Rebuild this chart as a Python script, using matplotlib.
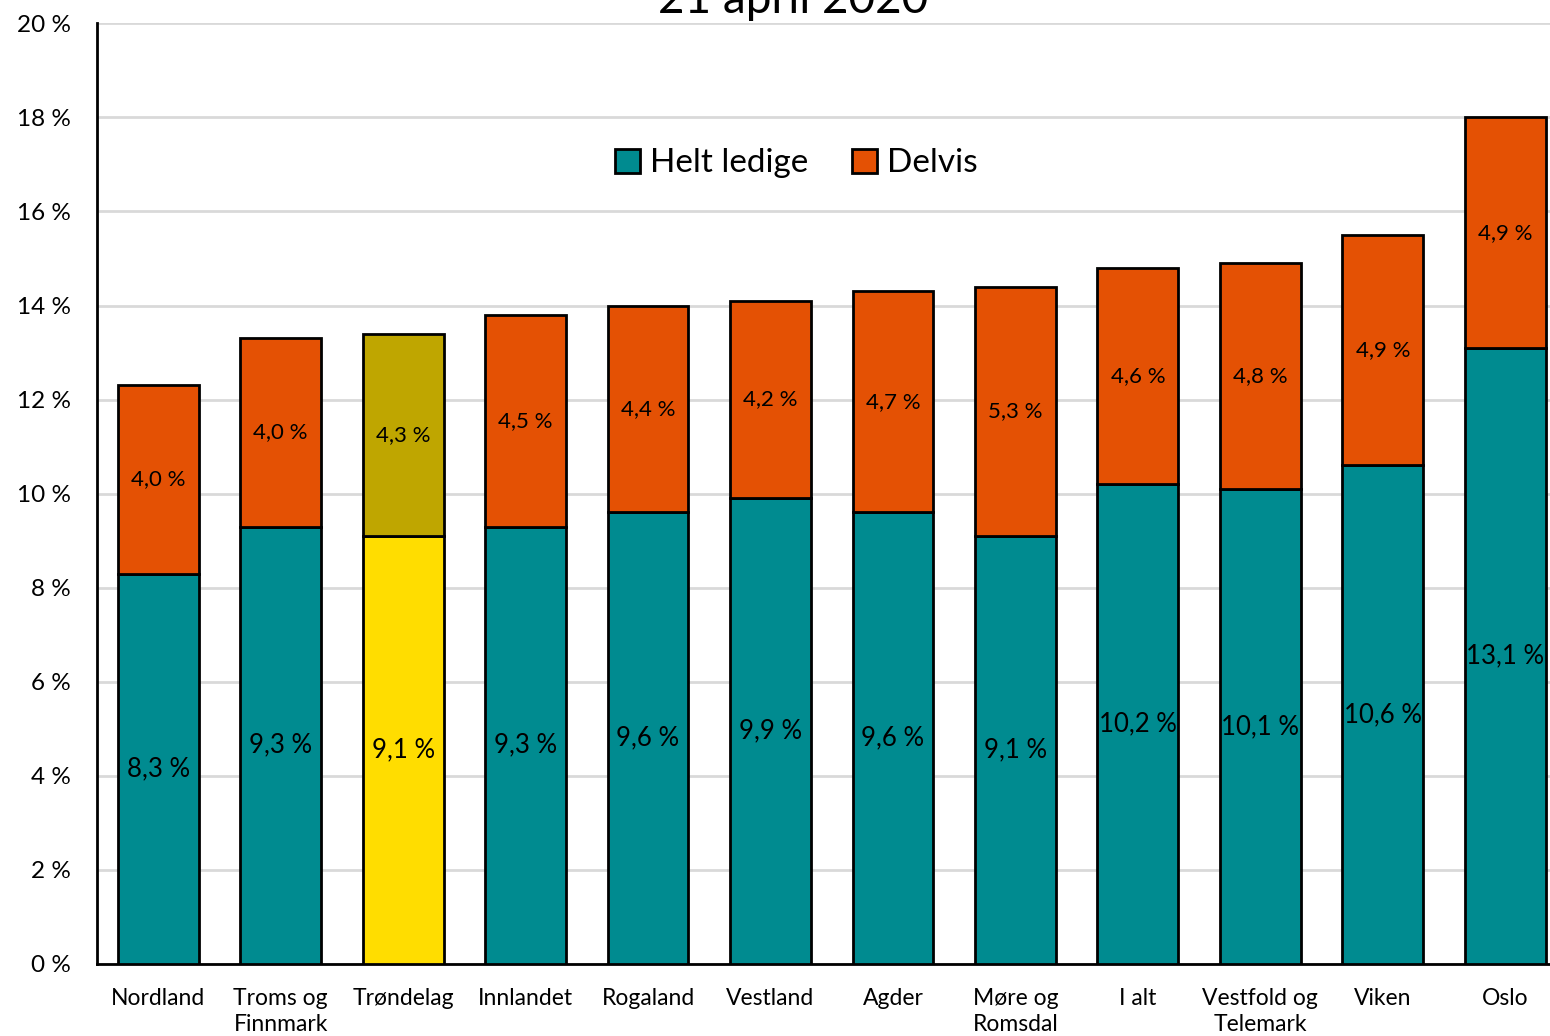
import matplotlib
matplotlib.use("Agg")
import matplotlib.pyplot as plt
from matplotlib.patches import Patch

plt.rcParams['font.family'] = ['Lato', 'DejaVu Sans']

# data
fylker = ["Nordland", "Troms og\nFinnmark", "Trøndelag", "Innlandet", "Rogaland",
          "Vestland", "Agder", "Møre og\nRomsdal", "I alt", "Vestfold og\nTelemark",
          "Viken", "Oslo"]
helt_ledige = [8.3, 9.3, 9.1, 9.3, 9.6, 9.9, 9.6, 9.1, 10.2, 10.1, 10.6, 13.1]
delvis = [4.0, 4.0, 4.3, 4.5, 4.4, 4.2, 4.7, 5.3, 4.6, 4.8, 4.9, 4.9]
y_ticks = [0, 2, 4, 6, 8, 10, 12, 14, 16, 18, 20]

teal = "#008B90"
orange = "#E45104"
highlight = "Trøndelag"

fig = plt.figure(figsize=(15.5, 10.36), dpi=100)
ax = fig.add_axes([0.0626, 0.0695, 0.948, 0.908])

x = list(range(len(fylker)))
c_helt = ["#FFDD00" if f == highlight else teal for f in fylker]
c_delv = ["#BFA600" if f == highlight else orange for f in fylker]

ax.bar(x, helt_ledige, width=0.66, color=c_helt, edgecolor="black", linewidth=2, zorder=3)
ax.bar(x, delvis, width=0.66, bottom=helt_ledige, color=c_delv, edgecolor="black",
       linewidth=2, zorder=3)

# segment labels
for i in x:
    ax.text(i, helt_ledige[i] / 2, f"{helt_ledige[i]:.1f} %".replace(".", ","),
            ha="center", va="center", fontsize=18.5, zorder=4)
    ax.text(i, helt_ledige[i] + delvis[i] / 2, f"{delvis[i]:.1f} %".replace(".", ","),
            ha="center", va="center", fontsize=16, zorder=4)

ax.set_xlim(-0.5, len(fylker) - 0.5)
ax.set_ylim(0, 20)
ax.set_yticks(y_ticks)
ax.set_yticklabels([f"{t} %" for t in y_ticks], fontsize=17.5)
ax.set_xticks(x)
ax.set_xticklabels(fylker, fontsize=16.5, linespacing=1.3, va="top")
ax.tick_params(axis="both", length=0)
ax.tick_params(axis="x", pad=17)
ax.tick_params(axis="y", pad=19)
ax.grid(axis="y", color="#d9d9d9", linewidth=2, zorder=0)
ax.spines["top"].set_visible(False)
ax.spines["right"].set_visible(False)
ax.spines["left"].set_linewidth(2)
ax.spines["bottom"].set_linewidth(2)

handles = [Patch(facecolor=teal, edgecolor="black", linewidth=2),
           Patch(facecolor=orange, edgecolor="black", linewidth=2)]
ax.legend(handles, ["Helt ledige", "Delvis"], loc="center", bbox_to_anchor=(0.476, 0.851),
          ncol=2, frameon=False, fontsize=24, handlelength=0.75, handleheight=0.75,
          handletextpad=0.3, columnspacing=1.3)

fig.text(0.512, 1.0, "21 april 2020", ha="center", va="center", fontsize=33)

fig.savefig("out.png", dpi=100)
